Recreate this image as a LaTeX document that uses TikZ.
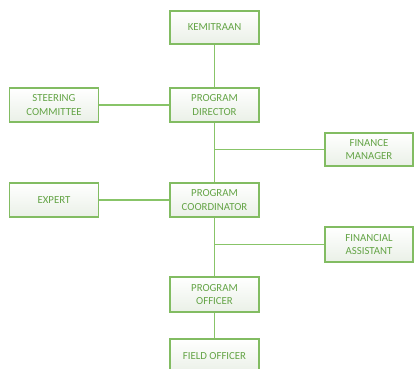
\documentclass[tikz,border=0pt]{standalone}
\usepackage{fontspec}
\setmainfont{Carlito}
\definecolor{boxline}{RGB}{130,188,98}
\definecolor{boxtext}{RGB}{100,164,70}
\definecolor{linkline}{RGB}{136,196,104}
\definecolor{boxbot}{RGB}{234,240,231}
\begin{document}
\begin{tikzpicture}[x=1pt,y=-1pt,
  orgbox/.style={draw=boxline, line width=1.1pt, top color=white, bottom color=boxbot,
    minimum width=89pt, minimum height=34pt, inner sep=1pt, align=center,
    text=boxtext, font=\fontsize{10.8}{13.5}\selectfont},
  link/.style={draw=linkline, line width=1.3pt}]
\useasboundingbox (0,0) rectangle (414,368);
\node[orgbox, minimum height=33pt] (kem) at (214.5,27.5) {KEMITRAAN};
\node[orgbox] (pd) at (214.5,105) {PROGRAM\\DIRECTOR};
\node[orgbox] (sc) at (54,105) {STEERING\\COMMITTEE};
\node[orgbox, minimum width=88pt, minimum height=33pt] (fm) at (369,149.5) {FINANCE\\MANAGER};
\node[orgbox] (ex) at (54,200) {EXPERT};
\node[orgbox] (pc) at (214.5,200) {PROGRAM\\COORDINATOR};
\node[orgbox, minimum width=88pt, minimum height=35pt] (fa) at (369,244.5) {FINANCIAL\\ASSISTANT};
\node[orgbox, minimum height=35pt] (po) at (214.5,294.5) {PROGRAM\\OFFICER};
\node[orgbox] (fo) at (214.5,356) {FIELD OFFICER};
\coordinate (j1) at (pd.south |- fm.west);
\coordinate (j2) at (pc.south |- fa.west);
\draw[link] (kem) -- (pd);
\draw[link] (sc) -- (pd);
\draw[link] (pd) -- (pc);
\draw[link] (j1) -- (fm);
\draw[link] (ex) -- (pc);
\draw[link] (pc) -- (po);
\draw[link] (j2) -- (fa);
\draw[link] (po) -- (fo);
\end{tikzpicture}
\end{document}
